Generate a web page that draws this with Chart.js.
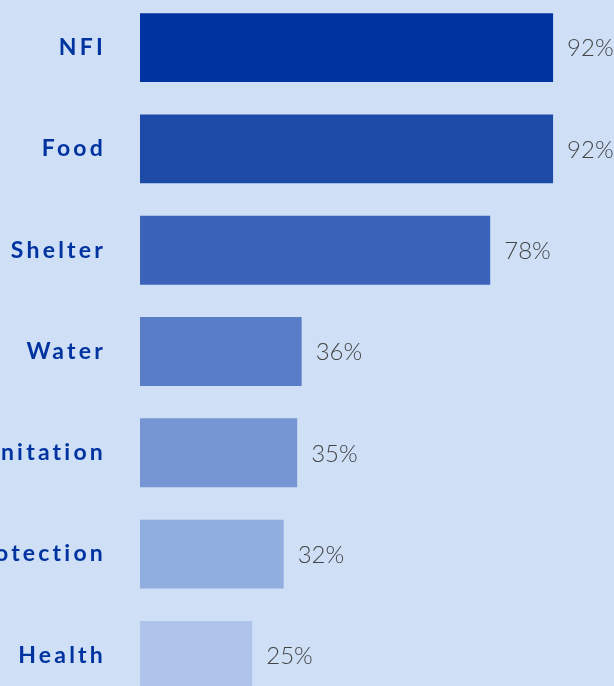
<!DOCTYPE html>
<html lang="en">
<head>
    <meta charset="UTF-8">
    <title>Needs Chart</title>
    <script src="https://cdn.jsdelivr.net/npm/chart.js"></script>
    <style>
        html, body { margin: 0; padding: 0; background: #cedff6; overflow: hidden; width: 614px; height: 686px; }
        #needsChart { position: absolute; left: -60px; top: -3px; }
    </style>
</head>
<body>
    <canvas id="needsChart" width="700" height="709"></canvas>
    <script>
        // data
        const categories = ['NFI', 'Food', 'Shelter', 'Water', 'Sanitation', 'Protection', 'Health'];
        const values = [92, 92, 78, 36, 35, 32, 25];

        // palette, darkest first
        const barColors = ['#0033a0', '#1f4ba8', '#3b63ba', '#587dc6', '#7596d2', '#91aee0', '#aec4ea'];

        // letter spacing only for the category labels
        const spacingPlugin = {
            id: 'spacing',
            beforeDraw(chart) { chart.ctx.letterSpacing = '3.2px'; },
            beforeDatasetsDraw(chart) { chart.ctx.letterSpacing = '0px'; }
        };

        // percentage text to the right of each bar
        const valueLabels = {
            id: 'valueLabels',
            afterDatasetsDraw(chart) {
                const ctx = chart.ctx;
                const meta = chart.getDatasetMeta(0);
                ctx.save();
                ctx.letterSpacing = '0px';
                ctx.font = '300 24px Lato';
                ctx.fillStyle = '#444444';
                ctx.textAlign = 'left';
                ctx.textBaseline = 'middle';
                meta.data.forEach((bar, i) => {
                    ctx.fillText(values[i] + '%', bar.x + 14, bar.y + 1);
                });
                ctx.restore();
            }
        };

        const ctx = document.getElementById('needsChart').getContext('2d');
        new Chart(ctx, {
            type: 'bar',
            data: {
                labels: categories,
                datasets: [{
                    data: values,
                    backgroundColor: barColors,
                    borderWidth: 0,
                    categoryPercentage: 1,
                    barPercentage: 0.68
                }]
            },
            options: {
                indexAxis: 'y',
                responsive: false,
                animation: false,
                layout: { padding: { left: 0, right: 51, top: 0, bottom: 0 } },
                plugins: {
                    legend: { display: false },
                    tooltip: { enabled: false }
                },
                scales: {
                    x: {
                        display: false,
                        min: 0,
                        max: 100
                    },
                    y: {
                        afterFit(scale) {
                            scale.width = 200;
                            scale.paddingTop = 0;
                            scale.paddingBottom = 0;
                        },
                        grid: { display: false, drawTicks: false },
                        border: { display: false },
                        ticks: {
                            color: '#0033a0',
                            padding: 34,
                            font: { family: 'Lato', weight: 'bold', size: 23 }
                        }
                    }
                }
            },
            plugins: [spacingPlugin, valueLabels]
        });
    </script>
</body>
</html>
